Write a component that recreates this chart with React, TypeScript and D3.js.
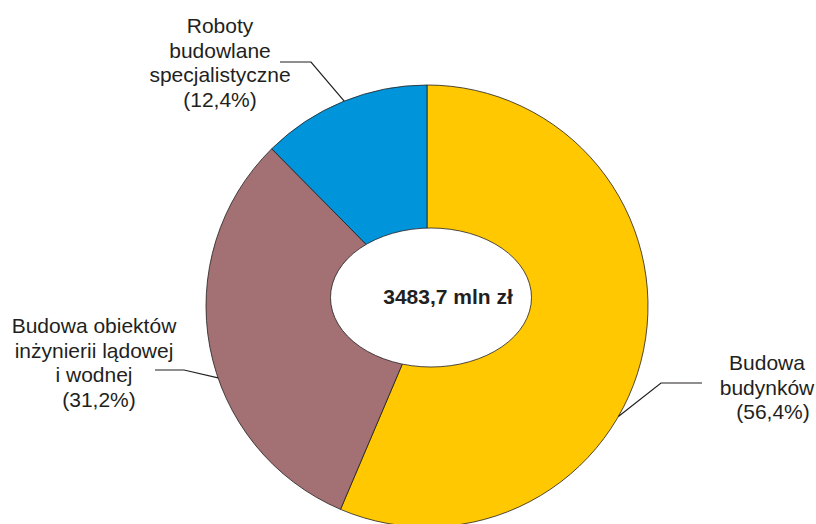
import * as d3 from "d3";
import React from "react";

// slice data, clockwise from 12 o'clock
const categories = ["budynki", "inzynieria", "specjalistyczne"];
const shares = [56.4, 31.2, 12.4];
const sliceColors = ["#FFC800", "#A37173", "#0095DA"];
const labelLines = [
  ["Budowa", "budynków", "(56,4%)"],
  ["Budowa obiektów", "inżynierii lądowej", "i wodnej", "(31,2%)"],
  ["Roboty", "budowlane", "specjalistyczne", "(12,4%)"],
];
const totalLabel = "3483,7 mln zł";

const width = 816;
const height = 524;
const cx = 427;
const cy = 306;
const radius = 221;
const ink = "#231F20";

// label layout: text anchor centre, first baseline, leader elbow, angle where leader touches pie
const labelLayout = [
  { x: 767, y: 370, dx: [0, 0, 6], elbow: [[702, 383], [661, 383]], angle: 120 },
  { x: 94, y: 333, dx: [0, 0, 0, 5], elbow: [[155, 370], [184, 370]], angle: 251 },
  { x: 220, y: 33, dx: [0, 0, 0, 0], elbow: [[280, 62], [311, 62]], angle: 338 },
];

export default function App() {
  const pie = d3
    .pie<number>()
    .sort(null)
    .value((d) => d);
  const arcs = pie(shares);
  const arc = d3.arc<d3.PieArcDatum<number>>().innerRadius(0).outerRadius(radius);

  const edgePoint = (deg: number) => {
    const a = (deg * Math.PI) / 180;
    return [cx + radius * Math.sin(a), cy - radius * Math.cos(a)];
  };

  const line = d3.line();

  return (
    <svg
      width={width}
      height={height}
      style={{ position: "absolute", left: 0, top: 0 }}
      fontFamily="Liberation Sans, Arial, sans-serif"
    >
      <rect width={width} height={height} fill="white" />
      <g transform={`translate(${cx},${cy})`}>
        {arcs.map((a, i) => (
          <path key={categories[i]} d={arc(a) || ""} fill={sliceColors[i]} stroke={ink} strokeWidth={0.8} />
        ))}
      </g>
      <ellipse cx={431} cy={297.5} rx={100.5} ry={69.5} fill="white" stroke={ink} strokeWidth={0.8} />
      <text x={448} y={304} textAnchor="middle" fontWeight="bold" fontSize={21} fill={ink}>
        {totalLabel}
      </text>
      {labelLayout.map((l, i) => {
        const end = edgePoint(l.angle) as [number, number];
        const pts = [...(l.elbow as [number, number][]), end];
        return (
          <g key={categories[i]}>
            <path d={line(pts) || ""} fill="none" stroke={ink} strokeWidth={1.2} />
            <text textAnchor="middle" fontSize={21} fill={ink}>
              {labelLines[i].map((t, j) => (
                <tspan key={j} x={l.x + l.dx[j]} y={l.y + j * 24.5}>
                  {t}
                </tspan>
              ))}
            </text>
          </g>
        );
      })}
    </svg>
  );
}
